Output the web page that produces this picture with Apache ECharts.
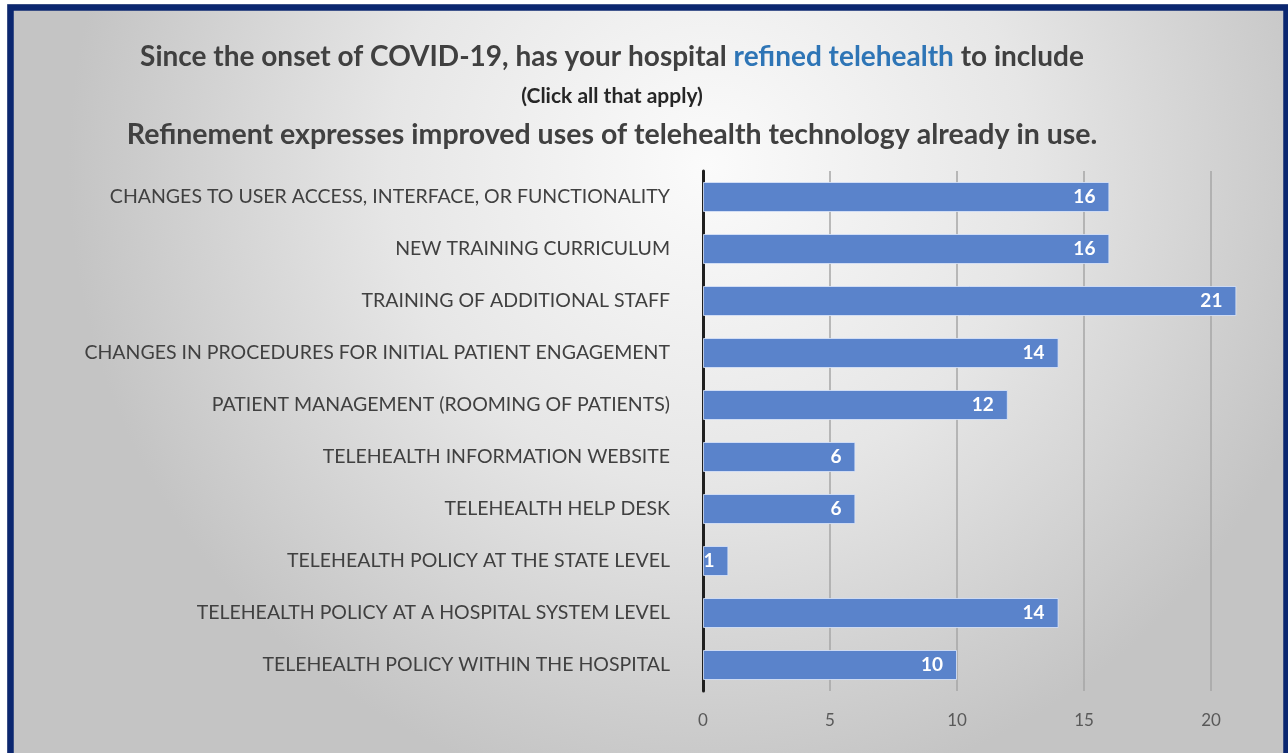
<!DOCTYPE html>
<html>
<head>
<meta charset="utf-8">
<script src="https://cdn.jsdelivr.net/npm/echarts@6/dist/echarts.min.js"></script>
<style>
html,body{margin:0;padding:0;background:#fff;}
#chart{width:1288px;height:753px;}
</style>
</head>
<body>
<div id="chart"></div>
<script>
const categories = [
  'CHANGES TO USER ACCESS, INTERFACE, OR FUNCTIONALITY',
  'NEW TRAINING CURRICULUM',
  'TRAINING OF ADDITIONAL STAFF',
  'CHANGES IN PROCEDURES FOR INITIAL PATIENT ENGAGEMENT',
  'PATIENT MANAGEMENT (ROOMING OF PATIENTS)',
  'TELEHEALTH INFORMATION WEBSITE',
  'TELEHEALTH HELP DESK',
  'TELEHEALTH POLICY AT THE STATE LEVEL',
  'TELEHEALTH POLICY AT A HOSPITAL SYSTEM LEVEL',
  'TELEHEALTH POLICY WITHIN THE HOSPITAL'
];
const values = [16, 16, 21, 14, 12, 6, 6, 1, 14, 10];
const titleLine1a = 'Since the onset of COVID-19, has your hospital ';
const titleLine1b = 'refined telehealth';
const titleLine1c = ' to include';
const titleLine2 = '(Click all that apply)';
const titleLine3 = 'Refinement expresses improved uses of telehealth technology already in use.';

const chart = echarts.init(document.getElementById('chart'));
const navy = '#0B2770';
chart.setOption({
  backgroundColor: {
    type: 'radial', x: 0.55, y: 0.22, r: 0.85,
    colorStops: [
      {offset: 0, color: '#fbfbfb'},
      {offset: 0.5, color: '#e6e6e6'},
      {offset: 1, color: '#c4c4c4'}
    ]
  },
  animation: false,
  grid: {
    left: 703, top: 171, height: 520, right: -50,
    containLabel: false,
    outerBoundsMode: 'none'
  },
  xAxis: {
    type: 'value', min: 0, max: 25, interval: 5,
    axisLine: {show: false},
    axisTick: {show: false},
    axisLabel: {fontFamily: 'Lato', fontSize: 17, color: '#595959', margin: 21},
    splitLine: {show: true, lineStyle: {color: '#a6a6a6', width: 1.5}}
  },
  yAxis: {
    type: 'category', data: categories, inverse: true,
    axisLine: {show: true, lineStyle: {color: '#1f1f1f', width: 3}},
    axisTick: {show: false},
    axisLabel: {fontFamily: 'Lato', fontSize: 19.5, color: '#404040', margin: 33},
    splitLine: {show: false}
  },
  series: [{
    type: 'bar',
    data: values,
    barWidth: 30,
    itemStyle: {color: '#5A83CB', borderColor: 'rgba(220,230,250,0.8)', borderWidth: 1},
    label: {
      show: true, position: 'insideRight', distance: 14,
      color: '#ffffff', fontFamily: 'Lato', fontWeight: 'bold', fontSize: 19
    }
  }],
  graphic: [
    {
      type: 'text', z: 50, silent: true,
      style: {
        x: 612, y: 37,
        align: 'center', verticalAlign: 'top',
        text: '{a|' + titleLine1a + '}{b|' + titleLine1b + '}{a|' + titleLine1c + '}\n{c|' + titleLine2 + '}\n{d|' + titleLine3 + '}',
        rich: {
          a: {fontFamily: 'Lato', fontWeight: 'bold', fontSize: 28, fill: '#404040', lineHeight: 40},
          b: {fontFamily: 'Lato', fontWeight: 'bold', fontSize: 28, fill: '#2E75B6', lineHeight: 40},
          c: {fontFamily: 'Lato', fontWeight: 'bold', fontSize: 21, fill: '#262626', lineHeight: 39},
          d: {fontFamily: 'Lato', fontWeight: 'bold', fontSize: 28.5, fill: '#404040', lineHeight: 37}
        }
      }
    },
    {type: 'rect', z: 100, silent: true, shape: {x: 0, y: 0, width: 1288, height: 4}, style: {fill: '#ffffff'}},
    {type: 'rect', z: 100, silent: true, shape: {x: 0, y: 0, width: 7, height: 753}, style: {fill: '#ffffff'}},
    {type: 'rect', z: 101, silent: true, shape: {x: 10.5, y: 7.5, width: 1276, height: 760}, style: {fill: 'none', stroke: navy, lineWidth: 6.5}}
  ]
});
</script>
</body>
</html>
